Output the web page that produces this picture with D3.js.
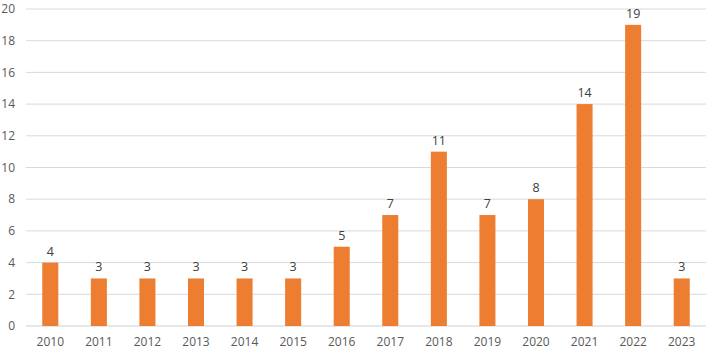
<!DOCTYPE html>
<html>
<head>
<meta charset="utf-8">
<script src="https://cdn.jsdelivr.net/npm/d3@7"></script>
<style>
  body { margin: 0; background: #fff; }
  text { font-family: "Open Sans", "Liberation Sans", sans-serif; }
</style>
</head>
<body>
<div id="chart"></div>
<script>
// Chart data
const years = ['2010', '2011', '2012', '2013', '2014', '2015', '2016', '2017', '2018', '2019', '2020', '2021', '2022', '2023'];
const counts = [4, 3, 3, 3, 3, 3, 5, 7, 11, 7, 8, 14, 19, 3];
const yTicks = [0, 2, 4, 6, 8, 10, 12, 14, 16, 18, 20];

const width = 708;
const height = 349;
const margin = { top: 9, right: 2, bottom: 23, left: 26 };

const svg = d3.select('#chart')
    .append('svg')
    .attr('width', width)
    .attr('height', height);

const x = d3.scaleBand()
    .domain(years)
    .range([margin.left, width - margin.right])
    .paddingInner(0.67)
    .paddingOuter(0.335);

const y = d3.scaleLinear()
    .domain([0, 20])
    .range([height - margin.bottom, margin.top]);

// Gridlines
svg.append('g')
    .selectAll('line')
    .data(yTicks)
    .enter()
    .append('line')
    .attr('x1', margin.left)
    .attr('x2', width - margin.right)
    .attr('y1', d => y(d))
    .attr('y2', d => y(d))
    .attr('stroke', d => d === 0 ? '#d0d0d0' : '#d9d9d9')
    .attr('stroke-width', 1);

// Y labels
svg.append('g')
    .selectAll('text')
    .data(yTicks)
    .enter()
    .append('text')
    .attr('x', 15)
    .attr('y', d => y(d))
    .attr('dy', '0.35em')
    .attr('text-anchor', 'end')
    .attr('font-size', 12)
    .attr('fill', '#595959')
    .text(d => d);

// Bars
svg.append('g')
    .selectAll('rect')
    .data(counts)
    .enter()
    .append('rect')
    .attr('x', (d, i) => x(years[i]))
    .attr('y', d => y(d))
    .attr('width', x.bandwidth())
    .attr('height', d => y(0) - y(d))
    .attr('fill', '#ed7d31');

// Value labels
svg.append('g')
    .selectAll('text')
    .data(counts)
    .enter()
    .append('text')
    .attr('x', (d, i) => x(years[i]) + x.bandwidth() / 2)
    .attr('y', d => y(d) - 7)
    .attr('text-anchor', 'middle')
    .attr('font-size', 12.5)
    .attr('fill', '#404040')
    .text(d => d);

// X labels
svg.append('g')
    .selectAll('text')
    .data(years)
    .enter()
    .append('text')
    .attr('x', d => x(d) + x.bandwidth() / 2)
    .attr('y', height - 3)
    .attr('text-anchor', 'middle')
    .attr('font-size', 12)
    .attr('fill', '#595959')
    .text(d => d);
</script>
</body>
</html>
